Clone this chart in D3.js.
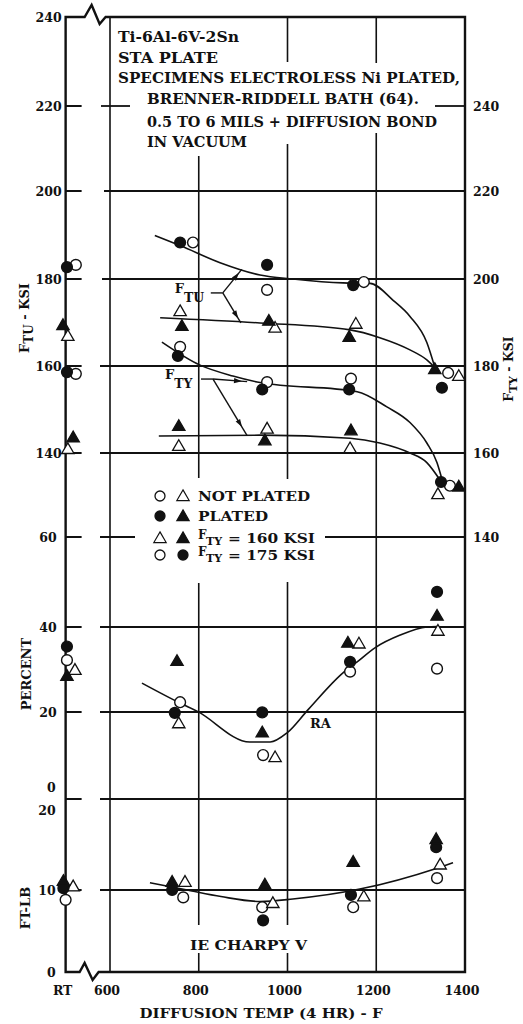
<!DOCTYPE html>
<html><head><meta charset="utf-8">
<script src="https://cdn.jsdelivr.net/npm/d3@7"></script>
<style>
html,body{margin:0;padding:0;background:#fff;}
svg{display:block;}
text{font-family:"DejaVu Serif","Liberation Serif",serif;font-weight:bold;fill:#111;}
</style></head><body>
<svg id="chart" width="523" height="1024"></svg>
<script>
// ---------------- DATA ----------------
const RT = 500; // room temperature sits at the broken left end of the temperature axis
const xTickValues = [RT, 600, 800, 1000, 1200, 1400];
const xTickLabels = ["RT", "600", "800", "1000", "1200", "1400"];
const ftuTicks = [240, 220, 200, 180, 160, 140];
const ftyTicks = [240, 220, 200, 180, 160, 140];
const pctTicks = [60, 40, 20, 0];
const ftlbTicks = [20, 10, 0];

// [temperature F, value]  (RT points spread slightly around RT as in the plot)
// F_TU (ksi)
const ftuOpenCircle   = [[523,183.2],[787,188.3],[954,177.5],[1172,179.3],[1362,158.4]];
const ftuFilledCircle = [[503,182.7],[758,188.3],[954,183.2],[1148,178.6],[1348,155.0]];
const ftuOpenTri      = [[505,166.7],[758,172.4],[972,168.6],[1154,169.5],[1386,157.5]];
const ftuFilledTri    = [[494,169.2],[762,169.0],[958,170.2],[1139,166.5],[1332,159.1]];
// F_TY (ksi, right scale)
const ftyOpenCircle   = [[523,178.2],[758,184.4],[954,176.3],[1143,177.1],[1366,152.2]];
const ftyFilledCircle = [[503,178.6],[753,182.3],[943,174.6],[1139,174.6],[1346,153.1]];
const ftyOpenTri      = [[505,160.7],[755,161.4],[954,165.4],[1141,160.9],[1339,150.0]];
const ftyFilledTri    = [[517,163.4],[755,166.0],[949,162.7],[1143,165.0],[1386,151.8]];
// RA (percent)
const raOpenCircle    = [[503,32.2],[758,22.3],[945,10.1],[1141,29.5],[1337,30.2]];
const raFilledCircle  = [[503,35.4],[746,19.8],[943,19.9],[1141,31.8],[1337,47.8]];
const raOpenTri       = [[521,29.7],[755,17.2],[972,9.4],[1161,35.9],[1339,38.9]];
const raFilledTri     = [[503,28.3],[751,31.8],[943,15.1],[1136,36.1],[1337,42.3]];
// Charpy impact (ft-lb)
const cvOpenCircle    = [[500,8.8],[765,9.1],[943,7.9],[1148,7.9],[1337,11.3]];
const cvFilledCircle  = [[495,10.2],[740,10.0],[945,6.3],[1143,9.4],[1335,14.7]];
const cvOpenTri       = [[517,10.3],[769,10.8],[967,8.3],[1172,9.1],[1344,12.7]];
const cvFilledTri     = [[495,10.9],[740,10.8],[949,10.5],[1148,13.0],[1335,15.5]];

// hand-faired curves
const ftuCurve175 = [[701,189.9],[758,187.6],[848,183.7],[938,180.9],[1012,180.0],[1125,179.1],[1186,179.0],[1238,175.1],[1276,171.4],[1314,165.4],[1332,159.7]];
const ftuCurve160 = [[713,171.1],[938,169.9],[1141,168.3],[1208,166.5],[1276,163.7],[1314,161.4],[1337,159.1]];
const ftyCurve175 = [[717,185.5],[803,180.2],[877,177.7],[938,176.2],[1157,174.1],[1224,170.6],[1276,167.0],[1314,162.3],[1337,157.7],[1348,153.8]];
const ftyCurve160 = [[710,163.9],[938,164.1],[1141,163.4],[1208,162.3],[1276,160.0],[1314,157.7],[1344,153.5]];
const raCurve     = [[672,26.8],[758,22.1],[796,20.2],[915,13.1],[961,13.1],[999,15.2],[1046,20.5],[1125,29.2],[1157,31.8],[1197,35.1],[1254,38.1],[1314,40.0],[1337,40.1]];
const cvCurve     = [[690,10.8],[774,10.0],[850,9.2],[938,8.6],[1012,8.9],[1163,10.1],[1337,12.4],[1373,13.0]];

const headerLines = ["Ti-6Al-6V-2Sn","STA PLATE","SPECIMENS ELECTROLESS Ni PLATED,","BRENNER-RIDDELL BATH (64).","0.5 TO 6 MILS + DIFFUSION BOND","IN VACUUM"];
const legendRows = [
  {syms:["oc","ot"], text:"NOT PLATED"},
  {syms:["fc","ft"], text:"PLATED"},
  {syms:["ot","ft"], sub:true, text:"= 160 KSI"},
  {syms:["oc","fc"], sub:true, text:"= 175 KSI"}
];

// ---------------- LAYOUT ----------------
const svg = d3.select("#chart");
const rows = [17,106,191,279,366,453,537,627,712,799,890,972]; // printed grid rows
const x = d3.scaleLinear().domain([600,1400]).range([110,465]);
const yFtu = d3.scaleLinear().domain(ftuTicks).range(rows.slice(0,6));
const yFty = d3.scaleLinear().domain(ftyTicks).range(rows.slice(1,7));
const yPct = d3.scaleLinear().domain(pctTicks).range(rows.slice(6,10));
const yFt  = d3.scaleLinear().domain(ftlbTicks).range(rows.slice(9,12));
const xL = x(RT), xR = x(1400), yTop = rows[0], yBot = rows[11];

const g = svg.append("g");
const ink = "#111";
function seg(x1,y1,x2,y2,w){ g.append("line").attr("x1",x1).attr("y1",y1).attr("x2",x2).attr("y2",y2).attr("stroke",ink).attr("stroke-width",w||1.8); }
function txt(xx,yy,s,o){ o=o||{}; const t=g.append("text").attr("x",xx).attr("y",yy).attr("font-size",o.size||12.5).attr("text-anchor",o.anchor||"start").text(s);
  if(o.len){ t.attr("textLength",o.len).attr("lengthAdjust","spacingAndGlyphs"); } if(o.base) t.attr("dominant-baseline",o.base); return t; }

// horizontal grid rows (segments interrupted by text as in the original)
const hGaps = [
  null,
  [[101,130],[435,xR]],
  [[104,xR]],[[102,xR]],[[100,xR]],[[100,xR]],
  [[100,135],[325,xR]],
  [[100,xR]],[[100,xR]],[[100,xR]],[[100,xR]],
  null
];
rows.forEach((ry,i)=>{
  if(!hGaps[i]) return;
  seg(xL, ry, xL+16, ry, 2);
  hGaps[i].forEach(s=>seg(s[0], ry, s[1], ry, 1.8));
});
// vertical grid lines
const vGrid = [
  {T:600, segs:[[yTop,yBot]]},
  {T:800, segs:[[156,478],[583,925],[953,yBot]]},
  {T:1000, segs:[[yTop,62],[144,479],[582,925],[953,yBot]]},
  {T:1200, segs:[[yTop,63],[133,yBot]]}
];
vGrid.forEach(v=>v.segs.forEach(s=>seg(x(v.T), s[0], x(v.T), s[1], 1.6)));

// frame with axis breaks
g.append("path").attr("fill","none").attr("stroke",ink).attr("stroke-width",2.4)
  .attr("d",`M${xL},${yBot} L${xL},${yTop} L${xL+19},${yTop} L${xL+26},${yTop-12} L${xL+34},${yTop+7} L${xL+40},${yTop} L${xR},${yTop} L${xR},${yBot} L${xL+33},${yBot} L${xL+27},${yBot+8} L${xL+19},${yBot-9} L${xL+14},${yBot} Z`);

// tick labels
ftuTicks.forEach(v=>txt(xL-4, yFtu(v), String(v), {anchor:"end", base:"central"}));
[60,40,20].forEach(v=>txt(xL-9, yPct(v), String(v), {anchor:"end", base:"central"}));
txt(xL-10, yPct(0)-7, "0", {anchor:"end"});
txt(xL-10, yFt(20)+16, "20", {anchor:"end"});
txt(xL-10, yFt(10), "10", {anchor:"end", base:"central"});
txt(xL-10, yFt(0), "0", {anchor:"end", base:"central"});
ftyTicks.forEach(v=>txt(xR+8, yFty(v), String(v), {anchor:"start", base:"central"}));
xTickValues.forEach((v,i)=>txt(x(v)-3, 995, xTickLabels[i], {anchor:"middle"}));
txt(261, 1018, "DIFFUSION TEMP (4 HR) - F", {anchor:"middle", size:13.5, len:243});

// axis titles (rotated)
function rotTitle(cx, cy, main, sub, rest, size){
  const t = g.append("text").attr("transform",`translate(${cx},${cy}) rotate(-90)`).attr("text-anchor","middle").attr("font-size",size||13);
  if(sub){ t.append("tspan").text(main); t.append("tspan").attr("dy",4).attr("font-size",(size||13)-1).text(sub); t.append("tspan").attr("dy",-4).text(rest); }
  else t.text(main);
  return t;
}
rotTitle(29, 318, "F", "TU", " - KSI");
rotTitle(513, 369, "F", "TY", " - KSI", 12.5);
rotTitle(31, 674, "PERCENT");
rotTitle(30, 908, "FT-LB");

// header text
const hdr = [{x:118,y:42,len:121},{x:118,y:63,len:100},{x:118,y:83,len:342},{x:147,y:104,len:272},{x:147,y:127,len:290},{x:147,y:147,len:100}];
headerLines.forEach((s,i)=>txt(hdr[i].x, hdr[i].y, s, {size:14, len:hdr[i].len}));

// curves
const line = (ys)=>d3.line().x(d=>x(d[0])).y(d=>ys(d[1])).curve(d3.curveMonotoneX);
[[ftuCurve175,yFtu],[ftuCurve160,yFtu],[ftyCurve175,yFty],[ftyCurve160,yFty],[raCurve,yPct],[cvCurve,yFt]]
  .forEach(([c,ys])=>g.append("path").datum(c).attr("d",line(ys)).attr("fill","none").attr("stroke",ink).attr("stroke-width",1.6));

// label arrows
function arrowHead(x1,y1,x2,y2,f){
  const dx=x2-x1, dy=y2-y1, L=Math.hypot(dx,dy), ux=dx/L, uy=dy/L;
  const tx=x1+dx*f, ty=y1+dy*f, bx=tx-ux*8, by=ty-uy*8, px=-uy*2.6, py=ux*2.6;
  g.append("path").attr("d",`M${tx},${ty}L${bx+px},${by+py}L${bx-px},${by-py}Z`).attr("fill",ink);
}
function pointer(ax, ay, sub, ends){
  const t = g.append("text").attr("x",ax).attr("y",ay).attr("font-size",13);
  t.append("tspan").text("F"); t.append("tspan").attr("dy",9).attr("font-size",12.5).text(sub);
  const jx = ax+48, jy = ay;
  seg(ax+36, jy, jx, jy, 1.4);
  ends.forEach(e=>{ seg(jx, jy, e[0], e[1], 1.4); arrowHead(jx, jy, e[0], e[1], 0.85); });
}
pointer(x(746), yFtu(176.8), "TU", [[x(897), yFtu(182.2)], [x(895), yFtu(169.9)]]);
pointer(x(724), yFty(177.0), "TY", [[x(909), yFty(176.4)], [x(909), yFty(164.0)]]);

// markers
const triPath = d3.symbol().type(d3.symbolTriangle).size(66)();
function marks(data, ys, kind){
  data.forEach(d=>{
    const cx = x(d[0]), cy = ys(d[1]);
    const filled = kind[0]==="f";
    if(kind[1]==="c"){
      g.append("circle").attr("cx",cx).attr("cy",cy).attr("r",5.4).attr("fill",filled?ink:"#fff").attr("stroke",ink).attr("stroke-width",1.4);
    } else {
      g.append("path").attr("d",triPath).attr("transform",`translate(${cx},${cy})`).attr("fill",filled?ink:"#fff").attr("stroke",ink).attr("stroke-width",1.3);
    }
  });
}
marks(ftuOpenCircle,yFtu,"oc"); marks(ftuFilledCircle,yFtu,"fc"); marks(ftuOpenTri,yFtu,"ot"); marks(ftuFilledTri,yFtu,"ft");
marks(ftyOpenCircle,yFty,"oc"); marks(ftyFilledCircle,yFty,"fc"); marks(ftyOpenTri,yFty,"ot"); marks(ftyFilledTri,yFty,"ft");
marks(raOpenCircle,yPct,"oc"); marks(raOpenTri,yPct,"ot"); marks(raFilledCircle,yPct,"fc"); marks(raFilledTri,yPct,"ft");
marks(cvOpenCircle,yFt,"oc"); marks(cvOpenTri,yFt,"ot"); marks(cvFilledCircle,yFt,"fc"); marks(cvFilledTri,yFt,"ft");

// legend
const legY = [496, 516, 538, 555];
legendRows.forEach((r,i)=>{
  const ly = legY[i];
  r.syms.forEach((s,j)=>{
    const cx = 160 + j*23;
    if(s[1]==="c") g.append("circle").attr("cx",cx).attr("cy",ly).attr("r",5).attr("fill",s[0]==="f"?ink:"#fff").attr("stroke",ink).attr("stroke-width",1.3);
    else g.append("path").attr("d",triPath).attr("transform",`translate(${cx},${ly+1})`).attr("fill",s[0]==="f"?ink:"#fff").attr("stroke",ink).attr("stroke-width",1.2);
  });
  if(r.sub){
    txt(198, ly+1, "F", {size:12});
    txt(206, ly+7, "TY", {size:11});
    txt(228, ly+5, r.text, {size:13, len:87});
  } else {
    txt(198, ly+5, r.text, {size:13, len: r.text.length>6?112:70});
  }
});

// panel notes
txt(310, 728, "RA", {size:13});
txt(190, 950, "IE CHARPY V", {size:13.5, len:117});
</script>
</body></html>
